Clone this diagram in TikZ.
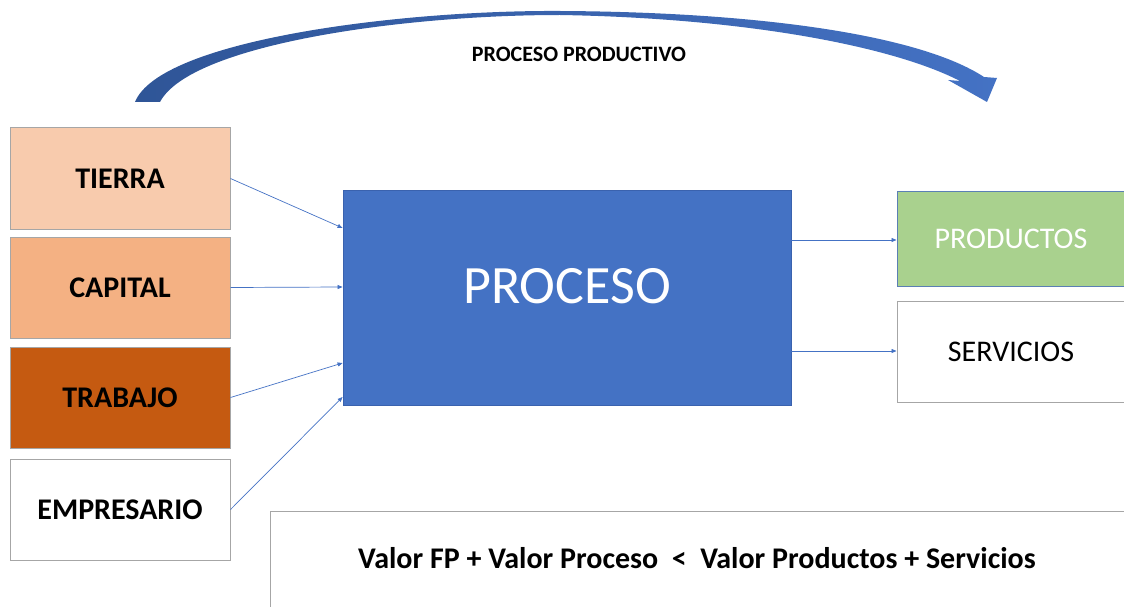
\documentclass[tikz,border=0pt]{standalone}
\usepackage{fontspec}
\setmainfont{Carlito}
\usetikzlibrary{arrows.meta}
\definecolor{tierraC}{HTML}{F8CBAD}
\definecolor{capitalC}{HTML}{F4B183}
\definecolor{trabajoC}{HTML}{C55A11}
\definecolor{procC}{HTML}{4472C4}
\definecolor{procB}{HTML}{3A62AE}
\definecolor{prodC}{HTML}{A9D18E}
\definecolor{prodB}{HTML}{5B7FB5}
\definecolor{boxB}{HTML}{A6A6A6}
\definecolor{arcL}{HTML}{2F5597}
\definecolor{arcR}{HTML}{4472C4}
\tikzset{
  factor/.style={draw=boxB, line width=1pt, minimum width=220pt, minimum height=101pt, inner sep=0pt,
    font=\fontsize{30}{34}\selectfont\bfseries},
  outbox/.style={line width=1pt, minimum width=228pt, inner sep=0pt, font=\fontsize{30}{34}\selectfont},
  link/.style={draw=procC, line width=0.7pt, -{Triangle[length=5pt,width=4pt]}},
}
\begin{document}
\begin{tikzpicture}[x=1pt,y=-1pt]
\useasboundingbox (0,0) rectangle (1124,607);
\clip (0,0) rectangle (1124,607);
% curved arrow
\path[left color=arcL, right color=arcR, shading angle=90]
  (135,102) .. controls (160,40) and (400,10) .. (560,11)
  .. controls (760,12) and (920,35) .. (984,77)
  -- (997,78) -- (987,102) -- (948,80) -- (960,81)
  .. controls (890,45) and (740,18) .. (560,15)
  .. controls (400,15) and (190,45) .. (160,102) -- cycle;
\node (title) at (579,54) {\fontsize{22}{26}\selectfont\bfseries PROCESO PRODUCTIVO};
% factors
\node[factor, fill=tierraC] (tierra) at (120,178.5) {TIERRA};
\node[factor, fill=capitalC] (capital) at (120,287.5) {CAPITAL};
\node[factor, fill=trabajoC] (trabajo) at (120,397.5) {TRABAJO};
\node[factor, fill=white] (empresario) at (120,509.5) {EMPRESARIO};
% process
\node[draw=procB, fill=procC, line width=0.8pt, minimum width=448pt, minimum height=215pt, inner sep=0pt] (proceso) at (567,297.5) {};
\node[text=white, font=\fontsize{54}{60}\selectfont, inner sep=0pt] (procesotxt) at (567,286) {PROCESO};
% outputs
\node[outbox, draw=prodB, fill=prodC, minimum height=95pt, text=white] (productos) at (1011,238.5) {PRODUCTOS};
\node[outbox, draw=boxB, fill=white, minimum height=101pt] (servicios) at (1011,351.5) {SERVICIOS};
% bottom box
\draw[boxB, line width=1pt] (270,640) -- (270,511) -- (1124,511) -- (1124,640);
\node[font=\fontsize{30}{34}\selectfont\bfseries] (ecuacion) at (697,558) {Valor FP + Valor Proceso \ < \ Valor Productos + Servicios};
% links
\draw[link] (tierra.east) -- (proceso.west |- 0,228);
\draw[link] (capital.east) -- (proceso.west |- 0,287);
\draw[link] (trabajo.east) -- (proceso.west |- 0,363);
\draw[link] (empresario.east) -- (proceso.west |- 0,397);
\draw[link] (proceso.east |- 0,240) -- (productos.west |- 0,240);
\draw[link] (proceso.east |- 0,351) -- (servicios.west |- 0,351);
\end{tikzpicture}
\end{document}
